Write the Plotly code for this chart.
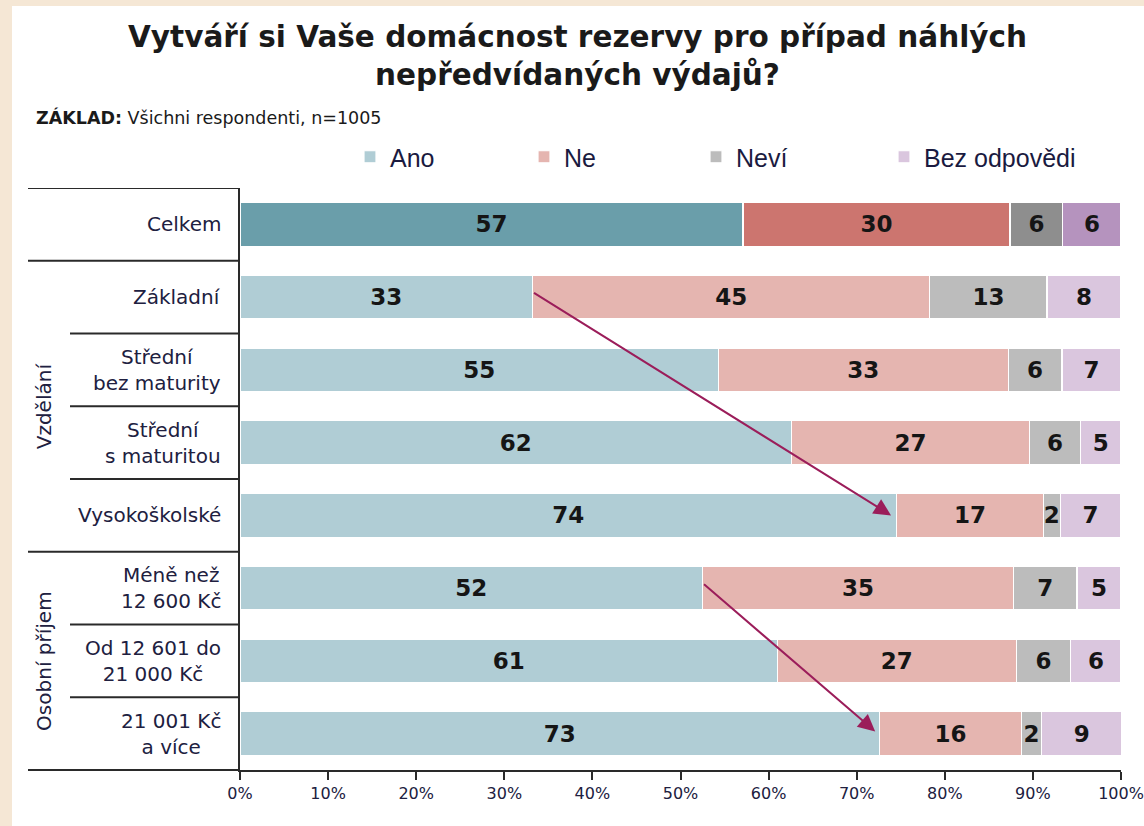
import plotly.graph_objects as go

# ---- data ----
categories = ["Celkem", "Základní", "Střední<br>bez maturity", "Střední<br>s maturitou",
              "Vysokoškolské", "Méně než<br>12 600 Kč", "Od 12 601 do<br>21 000 Kč", "21 001 Kč<br>a více"]
series_names = ["Ano", "Ne", "Neví", "Bez odpovědi"]
ano = [57.1, 33.2, 54.3, 62.6, 74.5, 52.5, 61.0, 72.6]
ne = [30.3, 45.1, 32.9, 27.0, 16.7, 35.3, 27.1, 16.1]
nevi = [6.0, 13.3, 6.1, 5.8, 1.9, 7.2, 6.2, 2.3]
bez = [6.6, 8.4, 6.7, 4.6, 6.9, 5.0, 5.7, 9.1]
ano_lbl = [57, 33, 55, 62, 74, 52, 61, 73]
ne_lbl = [30, 45, 33, 27, 17, 35, 27, 16]
nevi_lbl = [6, 13, 6, 6, 2, 7, 6, 2]
bez_lbl = [6, 8, 7, 5, 7, 5, 6, 9]
groups = ["Vzdělání", "Osobní příjem"]
group_rows = [[1, 2, 3, 4], [5, 6, 7]]
x_ticks = [0, 10, 20, 30, 40, 50, 60, 70, 80, 90, 100]
title_text = "Vytváří si Vaše domácnost rezervy pro případ náhlých<br>nepředvídaných výdajů?"
subtitle_text = "<b>ZÁKLAD:</b> Všichni respondenti, n=1005"

# colours: [highlight (Celkem), normal]
col_dark = ["#6a9eaa", "#cc756f", "#8e8e8e", "#b593be"]
col_light = ["#b0cdd5", "#e5b5b0", "#bcbcbc", "#dac6de"]

W, H = 1144, 826
ML, MR, MT, MB = 240, 23, 188, 56
PW = W - ML - MR
PH = H - MT - MB

def px_x(p):
    return (p - ML) / PW

def px_y(p):
    return (H - MB - p) / PH

# draw the Celkem row last so that the legend symbol takes the normal (light) colour
order = list(range(1, len(categories))) + [0]
legend_px = [350, 524, 696, 884]
legend_names = ["legend", "legend2", "legend3", "legend4"]

fig = go.Figure()
for k, (name, vals, lbls) in enumerate(zip(series_names, [ano, ne, nevi, bez],
                                          [ano_lbl, ne_lbl, nevi_lbl, bez_lbl])):
    colors = [col_dark[k] if i == 0 else col_light[k] for i in order]
    fig.add_trace(go.Bar(
        name=name, y=order, x=[vals[i] for i in order], orientation="h", width=0.6,
        marker=dict(color=colors, line=dict(color="white", width=1.2)),
        text=[str(lbls[i]) for i in order], textposition="inside", insidetextanchor="middle",
        constraintext="none",
        textfont=dict(family="DejaVu Sans", size=23, color="#151515", weight="bold"),
        hoverinfo="skip", legend=legend_names[k],
    ))

line_col = "#2a2a2a"
shapes = []
beige = "#f5e7d5"
shapes.append(dict(type="rect", xref="paper", yref="paper", x0=px_x(0), x1=px_x(12),
                   y0=px_y(H), y1=px_y(0), fillcolor=beige, line=dict(width=0), layer="below"))
shapes.append(dict(type="rect", xref="paper", yref="paper", x0=px_x(0), x1=px_x(W),
                   y0=px_y(6), y1=px_y(0), fillcolor=beige, line=dict(width=0), layer="below"))
full_lines = [-0.5, 0.5, 4.5]
inner_lines = [1.5, 2.5, 3.5, 5.5, 6.5]
for yv in full_lines:
    shapes.append(dict(type="line", xref="paper", yref="y", x0=px_x(28), x1=0, y0=yv, y1=yv,
                       line=dict(color=line_col, width=2)))
for yv in inner_lines:
    shapes.append(dict(type="line", xref="paper", yref="y", x0=px_x(70), x1=0, y0=yv, y1=yv,
                       line=dict(color=line_col, width=2)))
shapes.append(dict(type="line", xref="paper", yref="paper", x0=px_x(28), x1=0, y0=0, y1=0,
                   line=dict(color=line_col, width=2)))

annotations = []
txt_col = "#202040"
for i, c in enumerate(categories):
    annotations.append(dict(text=c, xref="paper", yref="y", x=px_x(223), y=i, xanchor="right",
                            yanchor="middle", align="center", showarrow=False,
                            font=dict(family="DejaVu Sans", size=20, color=txt_col)))
for g, r in zip(groups, group_rows):
    annotations.append(dict(text=g, xref="paper", yref="y", x=px_x(44), y=sum(r) / len(r),
                            textangle=-90, xanchor="center", yanchor="middle", showarrow=False,
                            font=dict(family="DejaVu Sans", size=20, color=txt_col)))
annotations.append(dict(text=title_text, xref="paper", yref="paper", x=px_x(577), y=px_y(18),
                        xanchor="center", yanchor="top", showarrow=False,
                        font=dict(family="DejaVu Sans", size=29.5, color="#1a1a1a", weight="bold")))
annotations.append(dict(text=subtitle_text, xref="paper", yref="paper", x=px_x(34), y=px_y(117),
                        xanchor="left", yanchor="middle", showarrow=False,
                        font=dict(family="DejaVu Sans", size=17.5, color="#1a1a1a")))
arrow_col = "#9b1d5a"
for (x0, y0, x1, y1) in [(ano[1], 0.93, ano[4] - 0.6, 4.0), (ano[5], 4.93, ano[7] - 0.5, 6.97)]:
    annotations.append(dict(x=x1, y=y1, ax=x0, ay=y0, xref="x", yref="y", axref="x", ayref="y",
                            showarrow=True, arrowhead=2, arrowsize=1.7, arrowwidth=2,
                            arrowcolor=arrow_col, text=""))

legend_font = dict(family="Liberation Sans", size=25, color="#1a1a40")
legend_layout = {}
for name, lx in zip(legend_names, legend_px):
    legend_layout[name] = dict(orientation="h", x=px_x(lx), y=px_y(157), xanchor="left",
                               yanchor="middle", font=legend_font, itemwidth=30,
                               bgcolor="rgba(0,0,0,0)")

fig.update_layout(
    width=W, height=H, margin=dict(l=ML, r=MR, t=MT, b=MB, autoexpand=False),
    paper_bgcolor="white", plot_bgcolor="white",
    barmode="stack", bargap=0.4,
    shapes=shapes, annotations=annotations,
    showlegend=True,
    xaxis=dict(range=[0, 100], tickvals=x_ticks, ticktext=[f"{t}%" for t in x_ticks],
               showgrid=False, zeroline=False, showline=True, linecolor=line_col, linewidth=2,
               ticks="outside", ticklen=8, tickwidth=2, tickcolor=line_col, automargin=False,
               tickfont=dict(family="DejaVu Sans", size=16, color=txt_col)),
    yaxis=dict(range=[7.5, -0.5], showticklabels=False, showgrid=False, zeroline=False,
               showline=True, linecolor=line_col, linewidth=2, ticks="", automargin=False),
    **legend_layout,
)

fig.write_html("out.html", config={"displayModeBar": False},
               post_script="document.body.style.margin='0';document.body.style.overflow='hidden';")
